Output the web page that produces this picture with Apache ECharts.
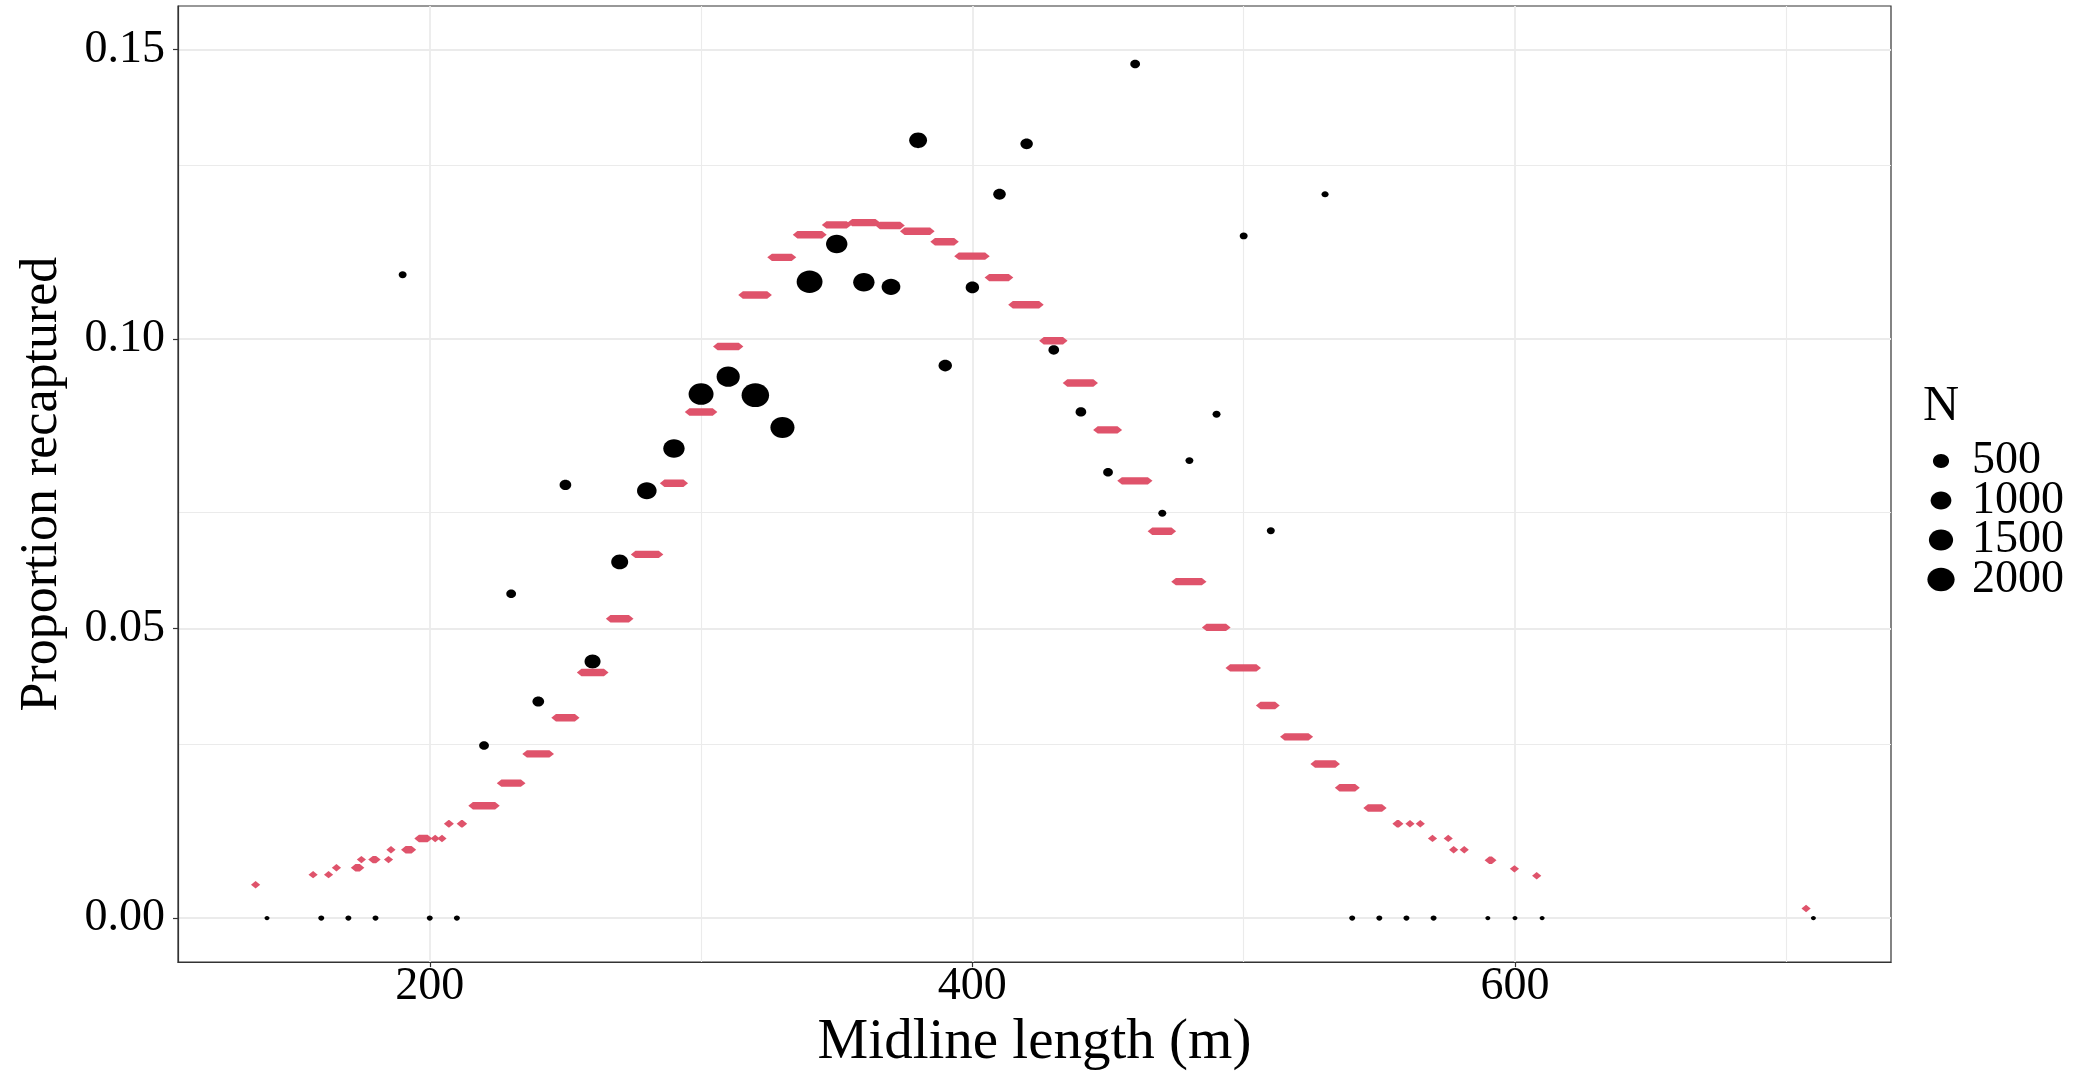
<!DOCTYPE html>
<html><head><meta charset="utf-8">
<script src="https://cdn.jsdelivr.net/npm/echarts@6/dist/echarts.min.js"></script>
<style>html,body{margin:0;padding:0;background:#fff}#c{width:2098px;height:1077px}</style>
</head><body><div id="c"></div>
<script>
// Observed proportions (black dots), one per midline-length bin
const obsLength = [140,160,170,180,190,200,210,220,230,240,250,260,270,280,290,300,310,320,330,340,350,360,370,380,390,400,410,420,430,440,450,460,470,480,490,500,510,530,540,550,560,570,590,600,610,710];
const obsProp = [0,0,0,0,0.1111,0,0,0.0298,0.0560,0.0374,0.0748,0.0443,0.0615,0.0738,0.0811,0.0905,0.0935,0.0903,0.0847,0.1099,0.1164,0.1098,0.1090,0.1343,0.0954,0.1089,0.1250,0.1337,0.0981,0.0874,0.0770,0.1475,0.0699,0.0790,0.0870,0.1178,0.0669,0.1250,0,0,0,0,0,0,0,0];
const obsN = [1,5,5,5,36,5,5,94,94,180,180,490,583,863,1089,1619,1341,2050,1477,1768,1089,1089,765,673,286,286,228,228,131,131,93,93,37,37,37,37,37,18,5,5,5,5,1,1,1,1];

// Fitted values (red diamonds): runs of observations [first length, last length, fitted proportion]
const fitStart = [135.8,157.0,162.7,165.6,172.6,174.8,179.0,184.8,185.7,191.1,196.0,202.0,204.5,206.9,211.6,215.9,226.4,235.8,246.5,255.9,266.6,275.8,286.5,295.7,306.1,315.4,326.1,335.5,346.2,355.7,365.9,375.0,386.2,395.0,406.2,414.9,426.3,435.0,446.2,455.1,466.3,475.0,486.3,495.0,506.2,515.1,526.3,535.3,545.8,556.5,561.3,565.1,569.6,575.4,577.4,581.3,590.5,599.8,608.0,707.3];
const fitEnd   = [135.8,157.0,162.7,165.6,174.2,174.8,180.2,184.8,185.7,193.3,199.2,202.0,204.5,207.2,212.1,224.1,233.6,244.1,253.5,264.2,273.4,284.4,293.5,304.3,313.9,324.4,333.4,344.6,353.7,364.3,373.4,384.4,393.3,404.7,413.4,424.6,433.4,444.6,453.5,464.7,473.4,484.6,493.5,504.7,511.6,523.9,533.8,541.1,551.0,557.2,561.3,565.1,569.6,575.4,577.4,581.3,591.5,599.8,608.0,707.3];
const fitProp  = [0.00575,0.0075,0.0075,0.0087,0.0087,0.0101,0.0101,0.0101,0.0118,0.0118,0.01375,0.01375,0.01375,0.0163,0.0163,0.0194,0.0233,0.02835,0.0346,0.0424,0.0517,0.0628,0.0751,0.0874,0.0987,0.1076,0.1141,0.1180,0.1197,0.1201,0.1196,0.1186,0.1168,0.1143,0.1106,0.1059,0.0997,0.0924,0.0843,0.0755,0.0668,0.0581,0.0502,0.0432,0.0367,0.0313,0.0266,0.0225,0.0190,0.0163,0.0163,0.0163,0.01376,0.01376,0.0118,0.0118,0.0100,0.0085,0.0073,0.00165];

// Axis ticks / grid
const xMajorTicks = [200,400,600];
const xMinorGrid = [300,500,700];
const yMajorTicks = [0,0.05,0.10,0.15];
const yMinorGrid = [0.025,0.075,0.125];
const legendN = [500,1000,1500,2000];

const FONT = '"Liberation Serif","Times New Roman",serif';
const ASPECT = 1.15;
const ELLIPSE = 'path://M0,50 C0,22.39 25.74,0 57.5,0 C89.26,0 115,22.39 115,50 C115,77.61 89.26,100 57.5,100 C25.74,100 0,77.61 0,50 Z';
const nLo = Math.min(...obsN), nHi = Math.max(...obsN);
function dotW(n){ return 5 + 22.5*Math.sqrt(Math.max(0,(n-nLo)/(nHi-nLo))); }

const chart = echarts.init(document.getElementById('c'));

const gridLines = [
  ...xMajorTicks.map(v=>({xAxis:v, lineStyle:{width:1.8}})),
  ...xMinorGrid.map(v=>({xAxis:v, lineStyle:{width:1.1}})),
  ...yMajorTicks.map(v=>({yAxis:v, lineStyle:{width:1.8}})),
  ...yMinorGrid.map(v=>({yAxis:v, lineStyle:{width:1.1}}))
];

const legends = legendN.map((n,i)=>{
  const w = dotW(n);
  return {
    data:[String(n)], left: 1941 - w/2, top: 438 + i*39.5, padding:0,
    itemWidth: w, itemHeight: w/ASPECT, icon: ELLIPSE, selectedMode:false,
    itemStyle:{color:'#000', opacity:1},
    textStyle:{fontSize:46, fontFamily:FONT, color:'#000', lineHeight:40, padding:[0,0,0,26 - w/2]}
  };
});

const option = {
  animation:false,
  backgroundColor:'#fff',
  title:{text:'N', left:1923, top:382, padding:0, textStyle:{fontSize:50, fontFamily:FONT, fontWeight:'normal', color:'#000', lineHeight:50}},
  legend: legends,
  grid:{left:178, right:207, top:6, bottom:102, show:true, borderColor:'#333', borderWidth:1.2, containLabel:false},
  xAxis:{
    type:'value', min:107.2, max:738.6,
    axisLine:{show:true, onZero:false, lineStyle:{color:'#333', width:1.2}},
    axisTick:{show:true, customValues:xMajorTicks, length:5, lineStyle:{color:'#333', width:1.2}},
    axisLabel:{customValues:xMajorTicks, fontSize:46, fontFamily:FONT, color:'#000', margin:2, lineHeight:46},
    splitLine:{show:false},
    name:'Midline length (m)', nameLocation:'middle', nameGap:48,
    nameTextStyle:{fontSize:57, fontFamily:FONT, color:'#000', lineHeight:57}
  },
  yAxis:{
    type:'value', min:-0.0076, max:0.1575,
    axisLine:{show:true, onZero:false, lineStyle:{color:'#333', width:1.2}},
    axisTick:{show:true, customValues:yMajorTicks, length:5, lineStyle:{color:'#333', width:1.2}},
    axisLabel:{customValues:yMajorTicks, formatter:v=>v.toFixed(2), fontSize:46, fontFamily:FONT, color:'#000', margin:13, lineHeight:46},
    splitLine:{show:false},
    name:'Proportion recaptured', nameLocation:'middle', nameGap:110,
    nameTextStyle:{fontSize:52, fontFamily:FONT, color:'#000', lineHeight:52}
  },
  series:[
    {type:'scatter', name:'grid', data:[], z:0, silent:true,
     markLine:{z:0, zlevel:0, silent:true, symbol:['none','none'], label:{show:false}, animation:false,
       lineStyle:{color:'#EBEBEB', type:'solid'}, data:gridLines}},
    {type:'scatter', name:'Observed', z:3,
     data: obsLength.map((x,i)=>[x, obsProp[i], obsN[i]]),
     symbol: ELLIPSE,
     symbolSize: v=>{const w=dotW(v[2]); return [w, w/ASPECT];},
     itemStyle:{color:'#000', opacity:1, borderWidth:0}},
    {type:'custom', name:'Fitted', z:4,
     data: fitStart.map((s,i)=>[s, fitEnd[i], fitProp[i]]),
     encode:{x:[0,1], y:2},
     renderItem:(params, api)=>{
       const a = api.coord([api.value(0), api.value(2)]);
       const b = api.coord([api.value(1), api.value(2)]);
       const hw = 4.6, hh = 3.7;
       return {type:'polygon', shape:{points:[[a[0]-hw,a[1]],[a[0],a[1]-hh],[b[0],b[1]-hh],[b[0]+hw,b[1]],[b[0],b[1]+hh],[a[0],a[1]+hh]]},
               style:{fill:'#DF536B'}};
     }},
    ...legendN.map(n=>({type:'scatter', name:String(n), data:[], symbol:ELLIPSE, itemStyle:{color:'#000', opacity:1}}))
  ]
};
chart.setOption(option);
</script>
</body></html>
